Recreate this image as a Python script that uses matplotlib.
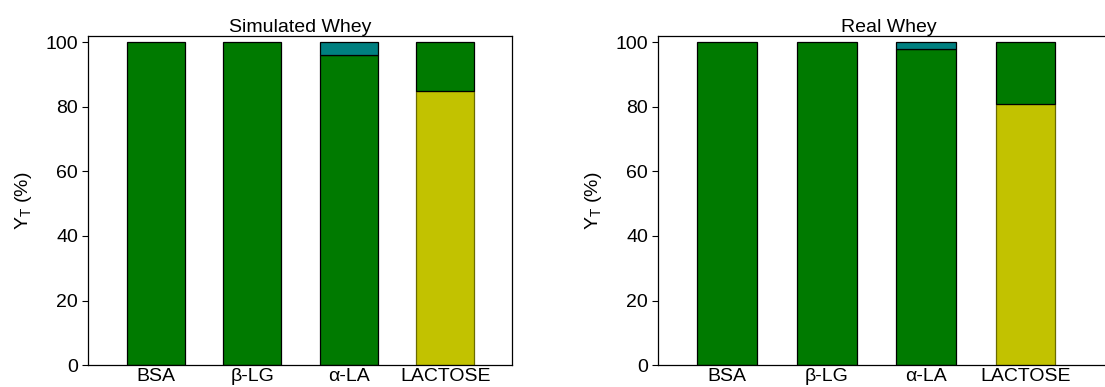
import matplotlib
matplotlib.use('agg')
import matplotlib.pyplot as plt
import numpy as np

plt.rcParams['font.family'] = ['Liberation Sans', 'DejaVu Sans']
plt.rcParams['font.size'] = 14

categories = ['BSA', '\u03b2-LG', '\u03b1-LA', 'LACTOSE']

# yield fractions (%) per component, stacked bottom to top
sim_green = [100, 100, 96, 0]
sim_teal = [0, 0, 4, 0]
sim_yellow = [0, 0, 0, 85]
sim_green_top = [0, 0, 0, 15]

real_green = [100, 100, 98, 0]
real_teal = [0, 0, 2, 0]
real_yellow = [0, 0, 0, 81]
real_green_top = [0, 0, 0, 19]

GREEN = '#007a00'
TEAL = '#008080'
YELLOW = '#c2c200'


def draw_panel(ax, title, green, teal, yellow, green_top, xmax):
    x = np.arange(len(categories))
    w = 0.6
    green = np.array(green)
    teal = np.array(teal)
    yellow = np.array(yellow)
    green_top = np.array(green_top)
    m = green > 0
    ax.bar(x[m], green[m], w, color=GREEN, edgecolor='black', lw=0.9)
    m = teal > 0
    ax.bar(x[m], teal[m], w, bottom=green[m], color=TEAL, edgecolor='black', lw=0.9)
    m = yellow > 0
    ax.bar(x[m], yellow[m], w, color=YELLOW, edgecolor='#6b6b00', lw=0.9)
    m = green_top > 0
    ax.bar(x[m], green_top[m], w, bottom=yellow[m], color=GREEN, edgecolor='black', lw=0.9)

    ax.set_xlim(-0.7, xmax)
    ax.set_ylim(0, 102)
    ax.set_yticks(range(0, 101, 20))
    ax.set_xticks(x)
    ax.set_xticklabels(categories)
    ax.tick_params(axis='x', length=0, pad=2, labelsize=14)
    ax.tick_params(axis='y', direction='out', length=4, width=0.8, labelsize=14, pad=3)
    for s in ax.spines.values():
        s.set_linewidth(0.9)
    ax.set_title(title, fontsize=14, pad=1)
    ax.set_ylabel('Y$_\\mathregular{T}$ (%)', fontsize=14, labelpad=8)


fig = plt.figure(figsize=(11.05, 3.87), dpi=100)
ax1 = fig.add_axes([0.0796, 0.0568, 0.3837, 0.8502])
ax2 = fig.add_axes([0.5952, 0.0568, 0.4184, 0.8502])

draw_panel(ax1, 'Simulated Whey', sim_green, sim_teal, sim_yellow, sim_green_top, 3.69)
draw_panel(ax2, 'Real Whey', real_green, real_teal, real_yellow, real_green_top, 3.95)

fig.savefig('out.png', dpi=100)
